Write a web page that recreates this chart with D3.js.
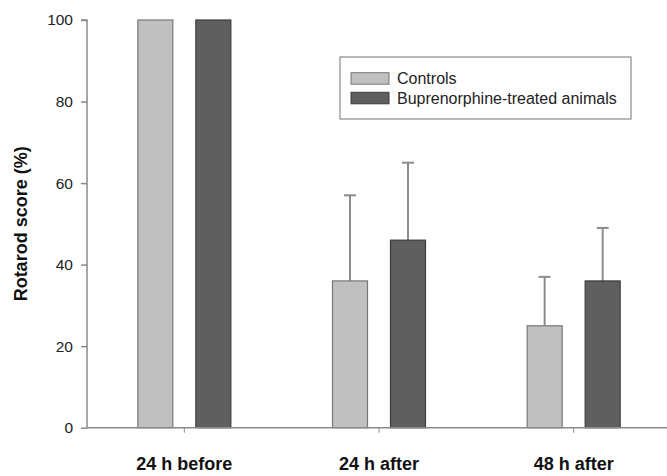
<!DOCTYPE html>
<html>
<head>
<meta charset="utf-8">
<script src="https://cdn.jsdelivr.net/npm/d3@7"></script>
<style>
  body { margin: 0; background: #fff; }
  svg { font-family: "Liberation Sans", Arial, sans-serif; }
</style>
</head>
<body>
<script>
var categories = ["24 h before", "24 h after", "48 h after"];
var seriesNames = ["Controls", "Buprenorphine-treated animals"];
var controls = [100, 36, 25];
var controlsErr = [null, 57, 37];
var treated = [100, 46, 36];
var treatedErr = [null, 65, 49];
var yTicks = [0, 20, 40, 60, 80, 100];

var fills = ["#c0c0c0", "#5f5f5f"];
var strokes = ["#777", "#3c3c3c"];

var width = 667, height = 476;
var svg = d3.select("body").append("svg")
    .attr("width", width)
    .attr("height", height);

var x = d3.scaleBand()
    .domain(categories)
    .range([87, 671])
    .padding(0);

var y = d3.scaleLinear()
    .domain([0, 100])
    .range([427.7, 20]);

// bar offset from the group center, bar width
var offs = [-29, 29], bw = 35;

var rows = categories.map(function(c, i) {
    return [
        {cat: c, s: 0, v: controls[i], e: controlsErr[i]},
        {cat: c, s: 1, v: treated[i], e: treatedErr[i]}
    ];
});
var flat = [].concat.apply([], rows);

function cx(d) { return x(d.cat) + x.bandwidth() / 2 + offs[d.s]; }

// error bars (drawn first, under the bars)
var eb = svg.append("g").attr("stroke", "#8c8c8c").attr("stroke-width", 2)
  .selectAll("g").data(flat.filter(function(d) { return d.e != null; }))
  .join("g");
eb.append("line")
    .attr("x1", cx).attr("x2", cx)
    .attr("y1", function(d) { return y(d.v); })
    .attr("y2", function(d) { return y(d.e); });
eb.append("line")
    .attr("x1", function(d) { return cx(d) - 6; })
    .attr("x2", function(d) { return cx(d) + 6; })
    .attr("y1", function(d) { return y(d.e); })
    .attr("y2", function(d) { return y(d.e); });

svg.append("g").selectAll("rect").data(flat).join("rect")
    .attr("x", function(d) { return cx(d) - bw / 2; })
    .attr("y", function(d) { return y(d.v); })
    .attr("width", bw)
    .attr("height", function(d) { return y(0) - y(d.v); })
    .attr("fill", function(d) { return fills[d.s]; })
    .attr("stroke", function(d) { return strokes[d.s]; })
    .attr("stroke-width", 1.2);

// y axis
var yAx = svg.append("g")
    .attr("transform", "translate(87,0)")
    .call(d3.axisLeft(y).tickValues(yTicks).tickSize(6).tickPadding(8));
yAx.select(".domain").attr("stroke", "#8a8a8a").attr("stroke-width", 1.5)
    .attr("d", "M0," + y(0) + "V" + y(100) + "H-6");
yAx.selectAll(".tick line").attr("stroke", "#8a8a8a").attr("stroke-width", 1.5);
yAx.selectAll(".tick text").attr("font-size", 15.5).attr("fill", "#222")
    .attr("font-family", "Liberation Sans, Arial, sans-serif");

// x axis
var xAx = svg.append("g")
    .attr("transform", "translate(0," + y(0) + ")")
    .call(d3.axisBottom(x).tickSize(5).tickPadding(25));
xAx.select(".domain").attr("stroke", "#8a8a8a").attr("stroke-width", 1.5)
    .attr("d", "M87,0H667");
xAx.selectAll(".tick line").attr("stroke", "#8a8a8a").attr("stroke-width", 1);
xAx.selectAll(".tick text").attr("font-size", 18).attr("font-weight", "bold")
    .attr("fill", "#111").attr("font-family", "Liberation Sans, Arial, sans-serif");

// y label
svg.append("text")
    .attr("transform", "translate(27," + ((y(0) + y(100)) / 2) + ") rotate(-90)")
    .attr("text-anchor", "middle")
    .attr("font-size", 18)
    .attr("font-weight", "bold")
    .attr("fill", "#111")
    .text("Rotarod score (%)");

// legend
var lg = svg.append("g").attr("transform", "translate(340,57)");
lg.append("rect").attr("width", 291).attr("height", 62)
    .attr("fill", "#fff").attr("stroke", "#8a8a8a").attr("stroke-width", 1.2);
var li = lg.selectAll(".item").data(seriesNames).join("g")
    .attr("class", "item")
    .attr("transform", function(d, i) { return "translate(11," + (15.7 + i * 19.6) + ")"; });
li.append("rect").attr("width", 38).attr("height", 11.5)
    .attr("fill", function(d, i) { return fills[i]; })
    .attr("stroke", function(d, i) { return strokes[i]; });
li.append("text").attr("x", 46).attr("y", 11.5)
    .attr("font-size", 16).attr("fill", "#222")
    .text(function(d) { return d; });
</script>
</body>
</html>
